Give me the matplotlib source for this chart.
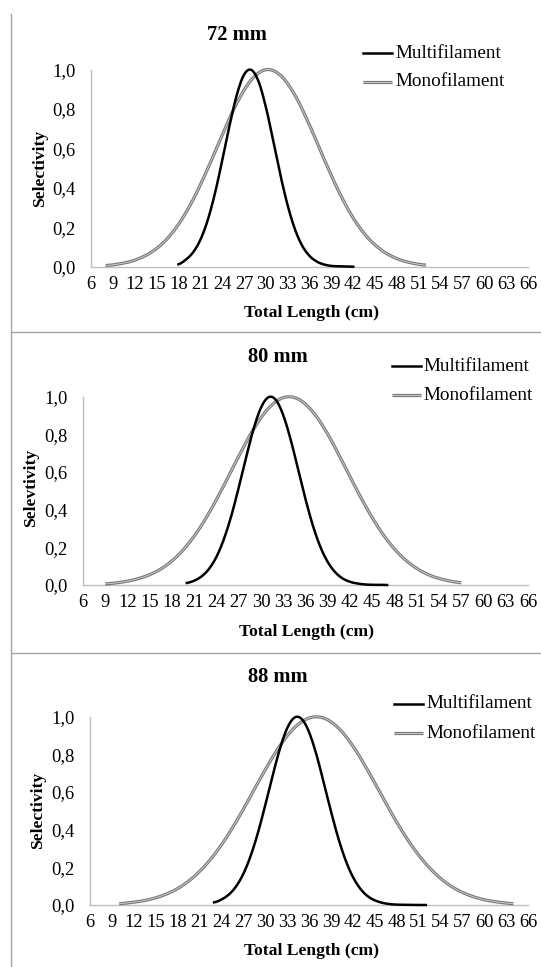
import numpy as np
import matplotlib
matplotlib.use("Agg")
import matplotlib.pyplot as plt
from matplotlib.lines import Line2D

plt.rcParams['font.family'] = ['Liberation Serif', 'DejaVu Serif']

# ---------------- data ----------------
panel_titles = ["72 mm", "80 mm", "88 mm"]
y_labels = ["Selectivity", "Selevtivity", "Selectivity"]
x_label = "Total Length (cm)"
series_names = ["Multifilament", "Monofilament"]
x_ticks = list(range(6, 67, 3))
y_ticks = [0.0, 0.2, 0.4, 0.6, 0.8, 1.0]
y_tick_labels = ["0,0", "0,2", "0,4", "0,6", "0,8", "1,0"]

# 72 mm
multi_72_x = list(range(18, 43))
multi_72_y = [0.012, 0.035, 0.072, 0.135, 0.233, 0.369, 0.536, 0.712, 0.869, 0.973,
              0.998, 0.940, 0.811, 0.642, 0.466, 0.311, 0.190, 0.106, 0.055, 0.026,
              0.011, 0.004, 0.002, 0.001, 0.000]
mono_72_x = list(range(8, 53, 2))
mono_72_y = [0.006, 0.015, 0.033, 0.067, 0.124, 0.214, 0.339, 0.495, 0.667, 0.828,
             0.947, 0.999, 0.971, 0.870, 0.718, 0.546, 0.383, 0.247, 0.147, 0.081,
             0.041, 0.019, 0.008]

# 80 mm
multi_80_x = list(range(20, 48))
multi_80_y = [0.011, 0.023, 0.046, 0.086, 0.150, 0.244, 0.368, 0.518, 0.679, 0.829,
              0.942, 0.997, 0.983, 0.902, 0.772, 0.615, 0.456, 0.315, 0.203, 0.122,
              0.068, 0.035, 0.017, 0.008, 0.003, 0.001, 0.001, 0.000]
mono_80_x = list(range(9, 58, 2))
mono_80_y = [0.006, 0.014, 0.029, 0.055, 0.098, 0.165, 0.260, 0.383, 0.529, 0.684,
             0.828, 0.938, 0.995, 0.988, 0.919, 0.801, 0.653, 0.499, 0.357, 0.239,
             0.150, 0.088, 0.048, 0.025, 0.012]

# 88 mm
multi_88_x = list(range(23, 53))
multi_88_y = [0.014, 0.029, 0.055, 0.098, 0.165, 0.260, 0.383, 0.529, 0.684, 0.828,
              0.938, 0.995, 0.988, 0.919, 0.801, 0.653, 0.499, 0.357, 0.239, 0.150,
              0.088, 0.048, 0.025, 0.012, 0.005, 0.002, 0.001, 0.000, 0.000, 0.000]
mono_88_x = list(range(10, 65, 2))
mono_88_y = [0.007, 0.015, 0.028, 0.051, 0.087, 0.142, 0.219, 0.319, 0.441, 0.578,
             0.718, 0.845, 0.941, 0.993, 0.993, 0.941, 0.845, 0.718, 0.578, 0.441,
             0.319, 0.219, 0.142, 0.087, 0.051, 0.028, 0.015, 0.007]

panels = [
    (multi_72_x, multi_72_y, mono_72_x, mono_72_y),
    (multi_80_x, multi_80_y, mono_80_x, mono_80_y),
    (multi_88_x, multi_88_y, mono_88_x, mono_88_y),
]

# ---------------- layout (pixels) ----------------
W, H = 541, 967
layout = [
    dict(l=91, r=528, t=69.5, b=266.7, tx=237, ty=35, lx0=363, lx1=392, ltx=395, ly1=53, ly2=82,
         ylx=40, yly=168, xlx=311, xly=313),
    dict(l=83, r=528, t=396.7, b=585, tx=278, ty=356.5, lx0=392, lx1=421, ltx=423.5, ly1=366, ly2=395,
         ylx=31, yly=488, xlx=306, xly=632),
    dict(l=90, r=528, t=716.7, b=905, tx=278, ty=676.5, lx0=394, lx1=423, ltx=426.5, ly1=704, ly2=733,
         ylx=38, yly=810, xlx=311, xly=951),
]

BLACK = "#000000"
GRAY_OUT = "#7a7a7a"
GRAY_IN = "#d4d4d4"
AXIS_C = "#bfbfbf"
SEP_C = "#a6a6a6"


def catmull(x, y, n=10):
    x = np.asarray(x, float)
    y = np.asarray(y, float)
    xp = np.concatenate([[2 * x[0] - x[1]], x, [2 * x[-1] - x[-2]]])
    yp = np.concatenate([[y[0]], y, [y[-1]]])
    xs, ys = [], []
    t = np.linspace(0, 1, n, endpoint=False)
    for i in range(1, len(xp) - 2):
        for arr, out in ((xp, xs), (yp, ys)):
            p0, p1, p2, p3 = arr[i - 1], arr[i], arr[i + 1], arr[i + 2]
            out.append(0.5 * ((2 * p1) + (-p0 + p2) * t +
                              (2 * p0 - 5 * p1 + 4 * p2 - p3) * t ** 2 +
                              (-p0 + 3 * p1 - 3 * p2 + p3) * t ** 3))
    xs = np.concatenate(xs + [[x[-1]]])
    ys = np.concatenate(ys + [[y[-1]]])
    return xs, np.clip(ys, 0, None)


fig = plt.figure(figsize=(W / 100, H / 100), dpi=100)
fig.patch.set_facecolor("white")


def fx(px):
    return px / W


def fy(py):
    return 1 - py / H


# frame lines
fig.add_artist(Line2D([fx(11), fx(11)], [fy(14), fy(967)], color=SEP_C, lw=1.0))
for sy in (332, 652.5):
    fig.add_artist(Line2D([fx(11), fx(541)], [fy(sy), fy(sy)], color=SEP_C, lw=1.0))

for (mx, my, nx, ny), L, title, ylab in zip(panels, layout, panel_titles, y_labels):
    ax = fig.add_axes([fx(L['l']), fy(L['b']), fx(L['r'] - L['l']), (L['b'] - L['t']) / H])
    ax.set_xlim(6, 66)
    ax.set_ylim(0, 1)
    sx, sy_ = catmull(nx, ny)
    ax.plot(sx, sy_, color=GRAY_OUT, lw=2.3, solid_capstyle='butt', clip_on=False, zorder=3)
    ax.plot(sx, sy_, color=GRAY_IN, lw=0.6, solid_capstyle='butt', clip_on=False, zorder=4)
    bx, by = catmull(mx, my)
    ax.plot(bx, by, color=BLACK, lw=1.8, clip_on=False, zorder=5)

    ax.set_xticks(x_ticks)
    ax.set_xticklabels([str(v) for v in x_ticks], fontsize=13.3)
    ax.set_yticks(y_ticks)
    ax.set_yticklabels(y_tick_labels, fontsize=13.3)
    ax.tick_params(axis='both', length=0)
    ax.tick_params(axis='x', pad=6.5)
    ax.tick_params(axis='y', pad=11)
    for s in ('top', 'right'):
        ax.spines[s].set_visible(False)
    for s in ('left', 'bottom'):
        ax.spines[s].set_color(AXIS_C)
        ax.spines[s].set_linewidth(1.0)
    ax.patch.set_alpha(0)

    fig.text(fx(L['tx']), fy(L['ty']), title, fontsize=14.8, fontweight='bold',
             ha='center', va='center')
    fig.text(fx(L['ylx']), fy(L['yly']), ylab, fontsize=12.6, fontweight='bold',
             ha='center', va='center', rotation=90)
    fig.text(fx(L['xlx']), fy(L['xly']), x_label, fontsize=12.6, fontweight='bold',
             ha='center', va='center')

    # legend
    fig.add_artist(Line2D([fx(L['lx0']), fx(L['lx1'])], [fy(L['ly1'])] * 2, color=BLACK, lw=1.8))
    fig.add_artist(Line2D([fx(L['lx0']), fx(L['lx1'])], [fy(L['ly2'])] * 2, color=GRAY_OUT, lw=2.3,
                          solid_capstyle='butt'))
    fig.add_artist(Line2D([fx(L['lx0']), fx(L['lx1'])], [fy(L['ly2'])] * 2, color=GRAY_IN, lw=0.6,
                          solid_capstyle='butt'))
    fig.text(fx(L['ltx']), fy(L['ly1']), series_names[0], fontsize=13.8, ha='left', va='center')
    fig.text(fx(L['ltx']), fy(L['ly2']), series_names[1], fontsize=13.8, ha='left', va='center')

fig.savefig("out.png", dpi=100, facecolor="white")
